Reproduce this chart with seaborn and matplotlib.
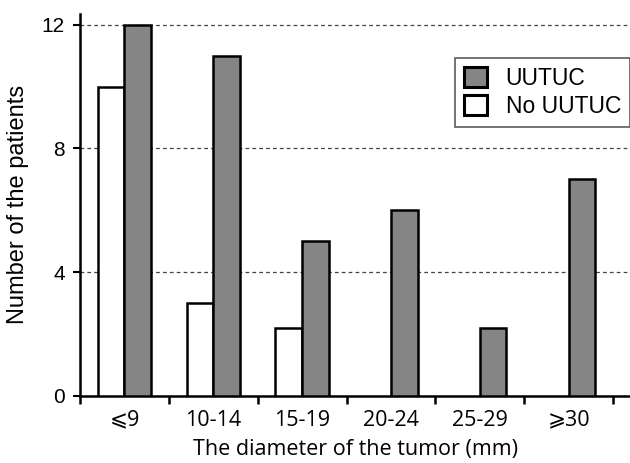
import matplotlib
matplotlib.use("Agg")
import matplotlib.pyplot as plt
import seaborn as sns
import pandas as pd
from matplotlib.patches import Patch

categories = ["⩽9", "10-14", "15-19", "20-24", "25-29", "⩾30"]
uutuc = [12, 11, 5, 6, 2.2, 7]
no_uutuc = [10, 3, 2.2, 0, 0, 0]
series_names = ["No UUTUC", "UUTUC"]
colors = {"No UUTUC": "#ffffff", "UUTUC": "#858585"}

df = pd.DataFrame({
    "cat": categories * 2,
    "series": [series_names[0]] * len(categories) + [series_names[1]] * len(categories),
    "value": no_uutuc + uutuc,
})

sns.set_theme(style="white")
plt.rcParams["font.family"] = ["Liberation Sans", "DejaVu Sans"]
plt.rcParams["text.color"] = "black"
plt.rcParams["axes.labelcolor"] = "black"
plt.rcParams["xtick.color"] = "black"
plt.rcParams["ytick.color"] = "black"

fig = plt.figure(figsize=(6.3, 4.63), dpi=100)
ax = fig.add_axes([0.127, 0.145, 0.873, 0.825])

sns.barplot(data=df, x="cat", y="value", hue="series", hue_order=series_names,
            order=categories, palette=colors, width=0.6, edgecolor="black",
            linewidth=1.8, ax=ax, legend=False, zorder=3)
for p in ax.patches:
    if p.get_height() == 0:
        p.set_visible(False)

ax.set_ylim(0, 12.35)
ax.set_xlim(-0.5, 5.69)
ax.set_yticks([0, 4, 8, 12])
ax.yaxis.grid(True, linestyle=(0, (3, 2.5)), color="#444444", linewidth=0.9, zorder=0)
ax.set_axisbelow(True)

for s in ["top", "right"]:
    ax.spines[s].set_visible(False)
for s in ["left", "bottom"]:
    ax.spines[s].set_color("black")
    ax.spines[s].set_linewidth(1.8)

ax.set_xticks(range(len(categories)))
ax.set_xticklabels(categories, fontsize=15.5, family=["Open Sans", "DejaVu Sans"])
ax.tick_params(axis="x", length=0, pad=10)
ax.set_xticks([i - 0.5 for i in range(len(categories) + 1)], minor=True)
ax.tick_params(axis="x", which="minor", length=6, width=1.8, color="black", direction="out", bottom=True)
ax.tick_params(axis="y", length=5, width=1.5, color="black", direction="out", left=True, labelsize=15, pad=6)

ax.set_xlabel("The diameter of the tumor (mm)", fontsize=15.5, family=["Open Sans", "DejaVu Sans"], labelpad=6)
ax.set_ylabel("Number of the patients", fontsize=17, labelpad=9)

handles = [Patch(facecolor=colors["UUTUC"], edgecolor="black", linewidth=2.2, label="UUTUC"),
           Patch(facecolor=colors["No UUTUC"], edgecolor="black", linewidth=2.2, label="No UUTUC")]
leg = ax.legend(handles=handles, loc="upper left", bbox_to_anchor=(0.682, 0.885),
                fontsize=16.5, frameon=True, fancybox=False, edgecolor="#333333",
                handlelength=1.0, handleheight=1.0, handletextpad=0.8,
                borderpad=0.4, labelspacing=0.2, borderaxespad=0)
leg.get_frame().set_linewidth(1.2)

fig.savefig("out.png", dpi=100)
